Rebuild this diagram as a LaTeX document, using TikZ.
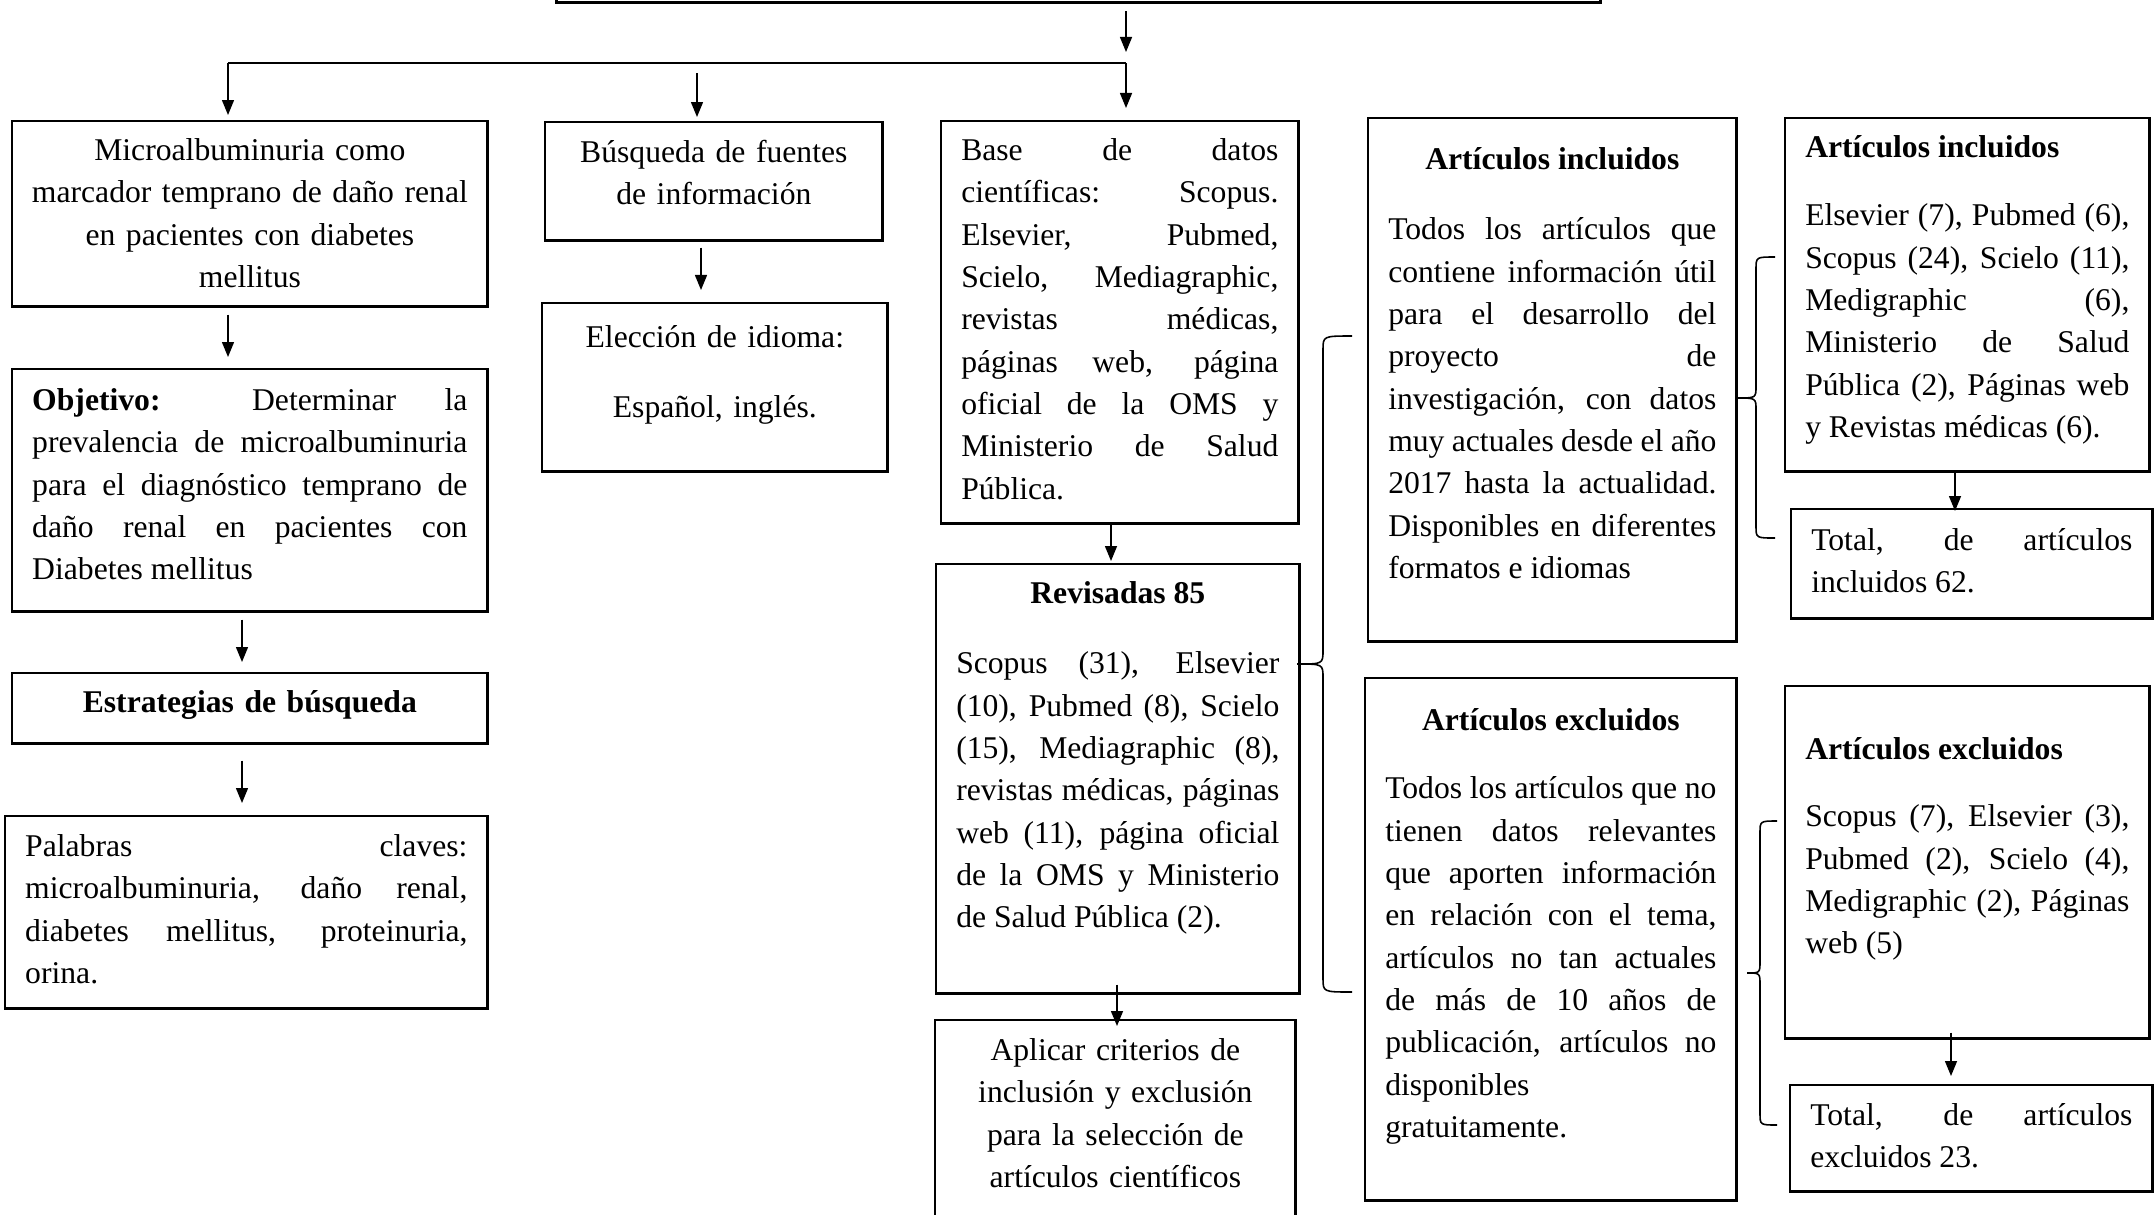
\documentclass[tikz,border=0pt]{standalone}
\usepackage{fontspec}
\setmainfont{Liberation Serif}
\usetikzlibrary{arrows.meta}
\hyphenpenalty=10000
\exhyphenpenalty=10000
\tikzset{
  caja/.style={draw, line width=0.7pt, anchor=north west, inner xsep=0.2cm,
    text height=0.2cm, font=\fontsize{9}{12.05}\selectfont},
  flecha/.style={-{Triangle[width=0.12cm,length=0.15cm]}, line width=0.4pt},
  llave/.style={line width=0.45pt}
}

\begin{document}
\begin{tikzpicture}[x=0.01cm, y=-0.01cm]
  \useasboundingbox (0,0) rectangle (2154,1214);

  \node[caja, anchor=south west, line width=0.9pt, text width=10.03cm, minimum height=0.8cm] (titulo) at (555,4) {};

  % columna izquierda
  \node[caja, align=center, inner xsep=0.1cm, text width=4.55cm, inner ysep=0.19cm, text depth=1.27cm] (micro) at (11,120)
    {Microalbuminuria como\\ marcador temprano de daño renal\\ en pacientes con diabetes\\ mellitus};
  \node[caja, align=justify, text width=4.35cm, inner ysep=0.21cm, text depth=1.80cm] (objetivo) at (11,368)
    {\textbf{Objetivo:} Determinar la\linebreak prevalencia de microalbuminuria\linebreak para el diagnóstico temprano de\linebreak daño renal en pacientes con\linebreak Diabetes mellitus};
  \node[caja, align=center, inner xsep=0.1cm, text width=4.55cm, inner ysep=0.19cm, text depth=0.12cm] (estrategias) at (11,672)
    {\textbf{Estrategias de búsqueda}};
  \node[caja, align=justify, text width=4.42cm, inner ysep=0.20cm, text depth=1.32cm] (palabras) at (4,815)
    {Palabras claves:\linebreak microalbuminuria, daño renal,\linebreak diabetes mellitus, proteinuria,\linebreak orina.};

  % columna de fuentes
  \node[caja, align=center, inner xsep=0.1cm, text width=3.17cm, inner ysep=0.2cm, text depth=0.58cm] (busqueda) at (544,121)
    {Búsqueda de fuentes\\ de información};
  \node[caja, align=center, inner xsep=0.1cm, text width=3.25cm, inner ysep=0.24cm, text depth=1.00cm] (eleccion) at (541,302)
    {Elección de idioma:\\[0.28cm] Español, inglés.};

  % columna de bases de datos
  \node[caja, align=justify, text width=3.17cm, inner ysep=0.19cm, text depth=3.44cm] (base) at (940,120)
    {Base de datos\linebreak científicas: Scopus.\linebreak Elsevier, Pubmed,\linebreak Scielo, Mediagraphic,\linebreak revistas médicas,\linebreak páginas web, página\linebreak oficial de la OMS y\linebreak Ministerio de Salud\linebreak Pública.};
  \node[caja, align=justify, text width=3.23cm, inner ysep=0.19cm, text depth=3.71cm] (revisadas) at (935,563)
    {{\centering\textbf{Revisadas 85}\par}\vspace{0.28cm}Scopus (31), Elsevier\linebreak (10), Pubmed (8), Scielo\linebreak (15), Mediagraphic (8),\linebreak revistas médicas, páginas\linebreak web (11), página oficial\linebreak de la OMS y Ministerio\linebreak de Salud Pública (2).};
  \node[caja, align=center, inner xsep=0.1cm, text width=3.40cm, inner ysep=0.2cm, text depth=2.2cm] (aplicar) at (934,1019)
    {Aplicar criterios de\\ inclusión y exclusión\\ para la selección de\\ artículos científicos};

  % criterios
  \node[caja, align=justify, text width=3.28cm, inner ysep=0.31cm, text depth=4.41cm] (incmed) at (1367,117)
    {{\centering\textbf{Artículos incluidos}\par}\vspace{0.28cm}Todos los artículos que\linebreak contiene información útil\linebreak para el desarrollo del\linebreak proyecto de\linebreak investigación, con datos\linebreak muy actuales desde el año\linebreak 2017 hasta la actualidad.\linebreak Disponibles en diferentes\linebreak formatos e idiomas};
  \node[caja, align=justify, text width=3.31cm, inner ysep=0.32cm, text depth=4.38cm] (excmed) at (1364,677)
    {{\centering\textbf{Artículos excluidos}\par}\vspace{0.26cm}Todos los artículos que no\linebreak tienen datos relevantes\linebreak que aporten información\linebreak en relación con el tema,\linebreak artículos no tan actuales\linebreak de más de 10 años de\linebreak publicación, artículos no\linebreak disponibles\newline gratuitamente.};

  % resultados
  \node[caja, align=justify, text width=3.24cm, inner ysep=0.19cm, text depth=2.95cm] (incder) at (1784,117)
    {\textbf{Artículos incluidos}\par\vspace{0.26cm}Elsevier (7), Pubmed (6),\linebreak Scopus (24), Scielo (11),\linebreak Medigraphic (6),\linebreak Ministerio de Salud\linebreak Pública (2), Páginas web\linebreak y Revistas médicas (6).};
  \node[caja, align=justify, text width=3.21cm, inner ysep=0.21cm, text depth=0.47cm] (totinc) at (1790,508)
    {Total, de artículos\linebreak incluidos 62.};
  \node[caja, align=justify, text width=3.24cm, inner ysep=0.53cm, text depth=2.26cm] (excder) at (1784,685)
    {\textbf{Artículos excluidos}\par\vspace{0.25cm}Scopus (7), Elsevier (3),\linebreak Pubmed (2), Scielo (4),\linebreak Medigraphic (2), Páginas\linebreak web (5)};
  \node[caja, align=justify, text width=3.22cm, inner ysep=0.2cm, text depth=0.46cm] (totexc) at (1789,1084)
    {Total, de artículos\linebreak excluidos 23.};

  \coordinate (rama) at (1126,63);
  \coordinate (ramaizq) at (228,63);
  \coordinate (ramamed) at (697,73);
  \coordinate (colA) at (242,0);
  \coordinate (colB) at (701,0);
  \coordinate (colC) at (1111,0);
  \coordinate (colD) at (1117,0);
  \coordinate (colE) at (1955,0);
  \coordinate (colF) at (1951,0);

  \draw[line width=0.4pt] (ramaizq) -- (rama);
  \begin{scope}[flecha]
    \draw[shorten <=0.07cm, shorten >=0.11cm] (titulo.south -| rama) -- (rama);
    \draw[shorten >=0.12cm] (rama) -- (base.north -| rama);
    \draw[shorten >=0.05cm] (ramaizq) -- (micro.north -| ramaizq);
    \draw[shorten >=0.04cm] (ramamed) -- (ramamed |- busqueda.north);
    \draw[shorten <=0.07cm, shorten >=0.11cm] (micro.south -| ramaizq) -- (objetivo.north -| ramaizq);
    \draw[shorten <=0.07cm, shorten >=0.10cm] (objetivo.south -| colA) -- (estrategias.north -| colA);
    \draw[shorten <=0.16cm, shorten >=0.12cm] (estrategias.south -| colA) -- (palabras.north -| colA);
    \draw[shorten <=0.06cm, shorten >=0.12cm] (busqueda.south -| colB) -- (eleccion.north -| colB);
    \draw[shorten >=0.02cm] (base.south -| colC) -- (revisadas.north -| colC);
    \draw[shorten <=-0.1cm, shorten >=-0.07cm] (revisadas.south -| colD) -- (aplicar.north -| colD);
    \draw[shorten >=-0.03cm] (incder.south -| colE) -- (totinc.north -| colE);
    \draw[shorten <=-0.07cm, shorten >=0.08cm] (excder.south -| colF) -- (totexc.north -| colF);
  \end{scope}

  % llaves
  \draw[llave] (1352,336) .. controls (1323,336) .. (1323,350) -- (1323,650)
    .. controls (1323,664) .. (1297,664) .. controls (1323,664) .. (1323,678)
    -- (1323,978) .. controls (1323,992) .. (1352,992);
  \draw[llave] (1775,257) .. controls (1756,257) .. (1756,269) -- (1756,386)
    .. controls (1756,398) .. (1737,398) .. controls (1756,398) .. (1756,410)
    -- (1756,526) .. controls (1756,538) .. (1775,538);
  \draw[llave] (1777,821) .. controls (1760,821) .. (1760,833) -- (1760,961)
    .. controls (1760,973) .. (1747,973) .. controls (1760,973) .. (1760,985)
    -- (1760,1113) .. controls (1760,1125) .. (1777,1125);
\end{tikzpicture}
\end{document}
